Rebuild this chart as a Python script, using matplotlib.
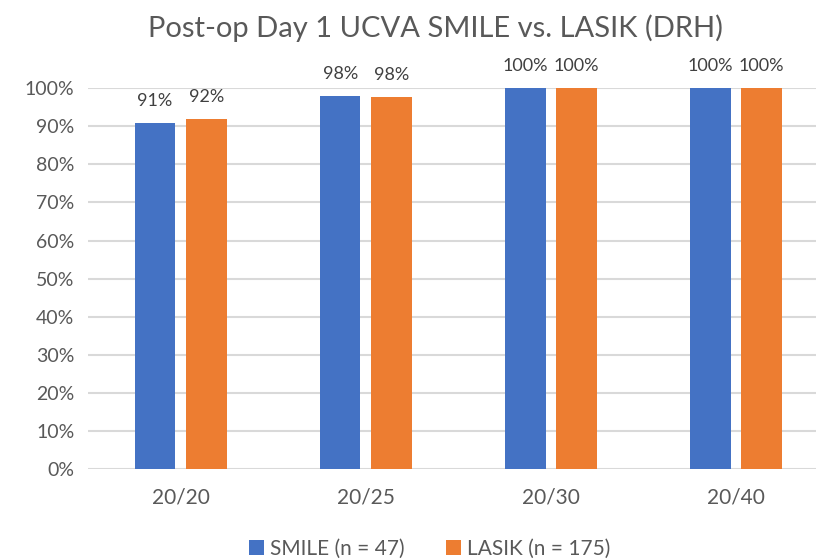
import numpy as np
import matplotlib.pyplot as plt

categories = ["20/20", "20/25", "20/30", "20/40"]
smile = [90.9, 97.9, 100, 100]
lasik = [92.0, 97.6, 100, 100]
smile_labels = ["91%", "98%", "100%", "100%"]
lasik_labels = ["92%", "98%", "100%", "100%"]

plt.rcParams['font.family'] = ['Lato', 'DejaVu Sans']
txt = "#595959"

fig = plt.figure(figsize=(8.16, 5.6), dpi=100)
ax = fig.add_axes([0.108, 0.1625, 0.907, 0.68])

x = np.arange(len(categories))
w = 0.22
b1 = ax.bar(x - 0.138, smile, w, color="#4472C4", label="SMILE (n = 47)", clip_on=False, zorder=3)
b2 = ax.bar(x + 0.138, lasik, w, color="#ED7D31", label="LASIK (n = 175)", clip_on=False, zorder=3)

for bars, labs in [(b1, smile_labels), (b2, lasik_labels)]:
    for rect, lab in zip(bars, labs):
        ax.annotate(lab, (rect.get_x() + rect.get_width() / 2, rect.get_height()),
                    xytext=(0, 10), textcoords="offset points", ha="center", va="bottom",
                    fontsize=13, color="#404040", annotation_clip=False)

ax.set_ylim(0, 100)
ax.set_xlim(-0.5, 3.5)
ax.set_yticks(range(0, 101, 10))
ax.set_yticklabels([f"{v}%" for v in range(0, 101, 10)])
ax.set_xticks(x)
ax.set_xticklabels(categories)
ax.tick_params(axis="both", length=0, labelsize=14, colors=txt)
ax.tick_params(axis="x", labelsize=15, pad=13)
ax.tick_params(axis="y", pad=10)
ax.grid(axis="y", color="#D9D9D9", linewidth=1.5, zorder=0)
ax.set_axisbelow(True)
for s in ax.spines.values():
    s.set_visible(False)

fig.text(0.534, 0.95, "Post-op Day 1 UCVA SMILE vs. LASIK (DRH)", ha="center", va="center",
         fontsize=21, color=txt)
fig.legend(loc="center", bbox_to_anchor=(0.527, 0.02), ncol=2, frameon=False, fontsize=15,
           labelcolor=txt, handlelength=0.7, handleheight=0.7, handletextpad=0.3, columnspacing=2.0)

fig.savefig("out.png", dpi=100)
